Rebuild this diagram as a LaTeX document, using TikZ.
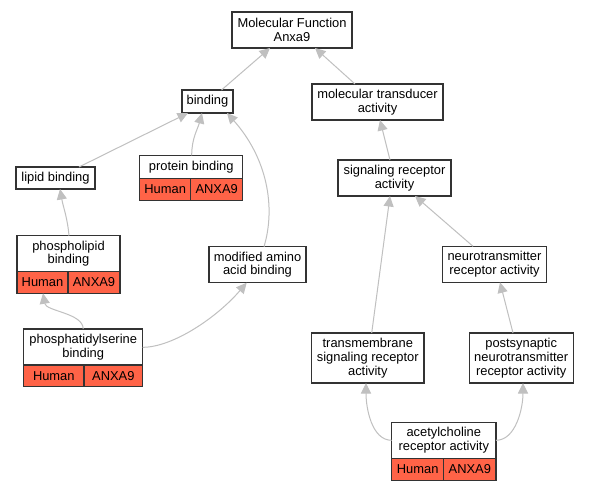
\documentclass[tikz,border=0pt]{standalone}
\usepackage{fontspec}
\setmainfont{Liberation Sans}
\usetikzlibrary{arrows.meta}
\definecolor{edgegray}{HTML}{C0C0C0}
\definecolor{tomatored}{HTML}{FF6347}
\definecolor{boxline}{HTML}{333333}
\begin{document}
\begin{tikzpicture}[x=1pt,y=-1pt,
  box/.style={draw=boxline, line width=1.1pt, fill=white, inner sep=0pt, outer sep=0pt,
    align=center, font=\fontsize{12.9}{13.7}\selectfont},
  cell/.style={box, fill=tomatored},
  edge/.style={draw=edgegray, line width=1pt, -{Triangle[width=10pt,length=10.5pt]}, color=edgegray}
]
\useasboundingbox (0,0) rectangle (589,491);
\fill[white] (0,0) rectangle (589,491);

% nodes
\node[box, minimum width=120pt, minimum height=36pt] (MF) at (292,30) {Molecular Function\\Anxa9};
\node[box, minimum width=51pt, minimum height=23pt] (bind) at (207.5,101.5) {binding};
\node[box, minimum width=131pt, minimum height=36pt] (mt) at (377.5,102) {molecular transducer\\activity};
\node[box, minimum width=113pt, minimum height=36pt] (sr) at (394.5,178) {signaling receptor\\activity};
\node[box, minimum width=79pt, minimum height=22pt] (lipid) at (55.5,178) {lipid binding};

\node[box, minimum width=103pt, minimum height=23pt] (prot) at (191.2,166.8) {protein binding};
\node[cell, minimum width=51pt, minimum height=21.7pt] (protH) at (165.2,189.2) {Human};
\node[cell, minimum width=52pt, minimum height=21.7pt] (protA) at (216.7,189.2) {ANXA9};

\node[box, minimum width=103pt, minimum height=36pt] (pl) at (68.5,253.7) {phospholipid\\binding};
\node[cell, minimum width=51pt, minimum height=21.6pt] (plH) at (42.5,282.5) {Human};
\node[cell, minimum width=52pt, minimum height=21.6pt] (plA) at (94,282.5) {ANXA9};

\node[box, minimum width=119pt, minimum height=36pt] (pss) at (83.2,347) {phosphatidylserine\\binding};
\node[cell, minimum width=60.3pt, minimum height=21.7pt] (pssH) at (53.8,375.8) {Human};
\node[cell, minimum width=58.7pt, minimum height=21.7pt] (pssA) at (113.3,375.8) {ANXA9};

\node[box, minimum width=97pt, minimum height=36pt] (mod) at (257.5,264.7) {modified amino\\acid binding};
\node[box, minimum width=104.4pt, minimum height=36pt] (nt) at (494.5,264.3) {neurotransmitter\\receptor activity};
\node[box, minimum width=112.3pt, minimum height=50pt] (tm) at (367.8,358) {transmembrane\\signaling receptor\\activity};
\node[box, minimum width=104.3pt, minimum height=50pt] (ps) at (521.2,358) {postsynaptic\\neurotransmitter\\receptor activity};

\node[box, minimum width=104.3pt, minimum height=36pt] (ach) at (443.8,440.3) {acetylcholine\\receptor activity};
\node[cell, minimum width=52pt, minimum height=21.7pt] (achH) at (417.7,469.2) {Human};
\node[cell, minimum width=52.3pt, minimum height=21.7pt] (achA) at (469.8,469.2) {ANXA9};

% edges
\draw[edge] ([xshift=14pt]bind.north) -- ([xshift=-22pt]MF.south);
\draw[edge] ([xshift=-22.5pt]mt.north) -- ([xshift=23pt]MF.south);
\draw[edge] ([xshift=-4.5pt]sr.north) -- ([xshift=2.5pt]mt.south);
\draw[edge] ([xshift=23.5pt]lipid.north) -- ([xshift=-19.5pt]bind.south);
\draw[edge] ([xshift=0.5pt]prot.north) to[out=90,in=-105] ([xshift=-5.5pt]bind.south);
\draw[edge] ([xshift=6.5pt]mod.north) .. controls +(12,-40) and +(40,45) .. ([xshift=19.5pt]bind.south);
\draw[edge] ([xshift=0.5pt]pl.north) to[out=95,in=-80] ([xshift=4.5pt]lipid.south);
\draw[edge] (pss.north) .. controls +(0,-16) and +(3,18) .. ([xshift=0.5pt]plH.south);
\draw[edge] ([yshift=-0.3pt]pss.east) .. controls +(30,0) and +(-30,35) .. ([xshift=-10.8pt]mod.south);
\draw[edge] ([xshift=3.9pt]tm.north) -- ([xshift=-4.5pt]sr.south);
\draw[edge] ([xshift=-21.5pt]nt.north) -- ([xshift=20.5pt]sr.south);
\draw[edge] ([xshift=-8.2pt]ps.north) -- ([xshift=5.5pt]nt.south);
\draw[edge] (ach.west) .. controls +(-20,0) and +(0,25) .. ([xshift=-1.8pt]tm.south);
\draw[edge] (ach.east) .. controls +(20,0) and +(0,25) .. ([xshift=1.8pt]ps.south);
\end{tikzpicture}
\end{document}
